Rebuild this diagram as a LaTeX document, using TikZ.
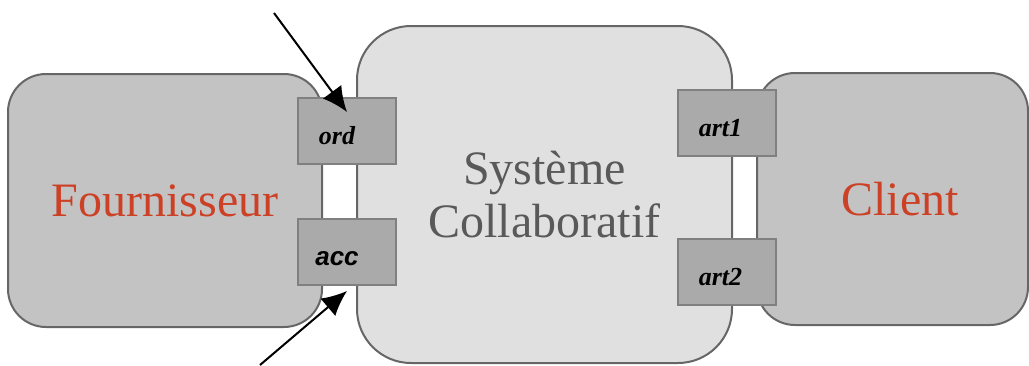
\documentclass[tikz,border=0pt]{standalone}
\usepackage{fontspec}
\setmainfont{Liberation Serif}
\setsansfont{Liberation Sans}
\usetikzlibrary{arrows.meta}
\definecolor{boxgray}{HTML}{C3C3C3}
\definecolor{sysgray}{HTML}{E0E0E0}
\definecolor{portgray}{HTML}{AAAAAA}
\definecolor{edgegray}{HTML}{666666}
\definecolor{portedge}{HTML}{808080}
\definecolor{actorred}{HTML}{CC4125}
\definecolor{systext}{HTML}{595959}
\begin{document}
\begin{tikzpicture}[x=0.5pt, y=-0.5pt,
    actor/.style={draw=edgegray, line width=1pt, fill=boxgray, rounded corners=19pt,
        text=actorred, font=\fontsize{24}{28}\selectfont, inner sep=0pt},
    port/.style={draw=portedge, line width=1pt, fill=portgray, minimum width=49pt,
        minimum height=33pt, inner sep=0pt, text height=13pt, text depth=0pt,
        font=\fontsize{13}{15}\selectfont\bfseries\itshape},
    arrow/.style={-{Latex[length=12.5pt,width=11.5pt]}, line width=1pt}]
    \useasboundingbox (0,0) rectangle (1029,365);

    % les deux acteurs
    \node[actor, minimum width=157pt, minimum height=126.5pt] (fourn) at (165,200.5) {Fournisseur};
    \node[actor, minimum width=135.5pt, minimum height=126pt] (client) at (892.5,199) {\hspace*{7.5pt}Client};

    % le systeme
    \node[draw=edgegray, line width=1pt, fill=sysgray, rounded corners=27pt,
        minimum width=187.5pt, minimum height=168.5pt, inner sep=0pt,
        text=systext, align=center, font=\fontsize{24}{26.5}\selectfont] (sys) at (544.5,194.5)
        {Système\\Collaboratif};

    % ports
    \node[port] (ord) at (347,131) {\hspace*{-10pt}ord};
    \node[port] (acc) at (347,252) {\hspace*{-10pt}\sffamily acc};
    \node[port] (art1) at (726.5,123) {\hspace*{-6pt}art1};
    \node[port] (art2) at (726.5,272) {\hspace*{-6pt}art2};

    % messages
    \coordinate (in-ord) at (274,13);
    \coordinate (in-acc) at (260,365);
    \draw[arrow] (in-ord) -- ([yshift=-7.5pt]ord.north);
    \draw[arrow] (in-acc) -- ([yshift=-2.5pt]acc.south);
\end{tikzpicture}
\end{document}
